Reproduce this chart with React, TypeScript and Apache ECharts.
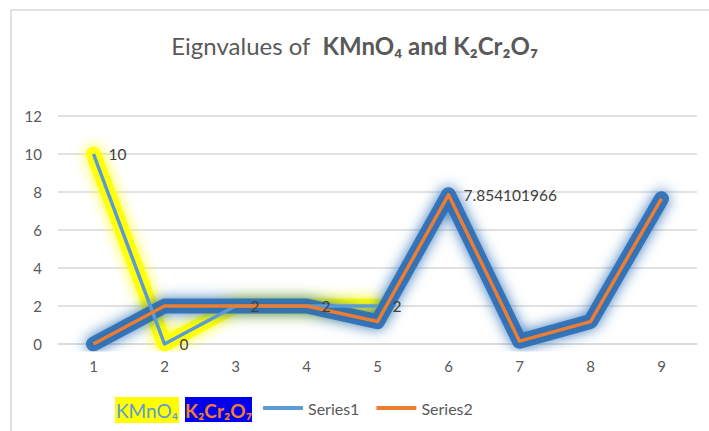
import React, { useEffect, useRef } from "react";
import * as echarts from "echarts";

const categories = ["1", "2", "3", "4", "5", "6", "7", "8", "9"];
const series1 = [10, 0, 2, 2, 2];
const series2 = [0, 2, 2, 2, 1.18, 7.854101966, 0.15, 1.18, 7.65];
const series2LabelIndex = 5;
const yTicks = { min: 0, max: 12, interval: 2 };

const FONT = "Lato, 'Noto Sans', sans-serif";

export default function App() {
  const ref = useRef<HTMLDivElement>(null);
  useEffect(() => {
    if (!ref.current) return;
    const chart = echarts.init(ref.current, undefined, { renderer: "svg" });
    const glow = (color: string) => ({
      width: 15,
      color,
      opacity: 0.9,
      cap: "round",
      join: "round",
      shadowBlur: 14,
      shadowColor: color,
    });
    const labelStyle = {
      show: true,
      position: "right",
      distance: 15,
      color: "#404040",
      fontSize: 15.5,
      fontFamily: FONT,
    };
    chart.setOption({
      animation: false,
      backgroundColor: "#ffffff",
      textStyle: { fontFamily: FONT },
      title: {
        text: "{n|Eignvalues of  }{b|KMnO₄ and K₂Cr₂O₇}",
        left: "center",
        top: 28,
        textStyle: {
          fontWeight: "normal",
          rich: {
            n: { fontSize: 24, color: "#595959", fontWeight: "normal", fontFamily: FONT },
            b: { fontSize: 24, color: "#595959", fontWeight: "bold", fontFamily: FONT },
          },
        },
      },
      graphic: [
        {
          type: "rect",
          shape: { x: 11, y: 10, width: 720, height: 440 },
          style: { fill: "none", stroke: "#d9d9d9", lineWidth: 1.5 },
          silent: true,
        },
        {
          type: "rect",
          shape: { x: 115, y: 397, width: 64, height: 26 },
          style: { fill: "#ffff00" },
        },
        {
          type: "text",
          x: 147,
          y: 410,
          style: {
            text: "KMnO₄",
            fill: "#5b9bd5",
            font: `19px ${FONT}`,
            align: "center",
            verticalAlign: "middle",
          },
        },
        {
          type: "rect",
          shape: { x: 185, y: 397, width: 67, height: 25 },
          style: { fill: "#0000ee" },
        },
        {
          type: "text",
          x: 218.5,
          y: 410,
          style: {
            text: "K₂Cr₂O₇",
            fill: "#ed7d31",
            font: `bold 19px ${FONT}`,
            align: "center",
            verticalAlign: "middle",
          },
        },
      ],
      legend: {
        data: [
          { name: "Series1", itemStyle: { color: "#5b9bd5" } },
          { name: "Series2", itemStyle: { color: "#ed7d31" } },
        ],
        left: 263,
        top: 400,
        padding: 0,
        icon: "roundRect",
        itemWidth: 40,
        itemHeight: 4,
        itemGap: 17,
        itemTextGap: 1,
        textStyle: { fontSize: 16, color: "#595959", fontFamily: FONT },
      },
      grid: { left: 58, right: 12, top: 116, bottom: 87 },
      xAxis: {
        type: "category",
        data: categories,
        boundaryGap: true,
        axisTick: { show: false },
        axisLine: { lineStyle: { color: "#d9d9d9", width: 1.5 } },
        axisLabel: { color: "#595959", fontSize: 15, margin: 14 },
      },
      yAxis: {
        type: "value",
        min: yTicks.min,
        max: yTicks.max,
        interval: yTicks.interval,
        axisLine: { show: false },
        axisTick: { show: false },
        splitLine: { lineStyle: { color: "#d9d9d9", width: 1.5 } },
        axisLabel: { color: "#595959", fontSize: 15, margin: 16 },
      },
      series: [
        {
          name: "KMnO4 glow",
          type: "line",
          data: series1,
          symbol: "none",
          silent: true,
          lineStyle: glow("#ffff00"),
        },
        {
          name: "K2Cr2O7 glow",
          type: "line",
          data: series2,
          symbol: "none",
          silent: true,
          lineStyle: glow("#2a6db5"),
        },
        {
          name: "Series1",
          type: "line",
          data: series1,
          symbol: "circle",
          symbolSize: 0.01,
          showSymbol: true,
          color: "#5b9bd5",
          lineStyle: { width: 3.5, color: "#5b9bd5", join: "round" },
          label: labelStyle,
        },
        {
          name: "Series2",
          type: "line",
          data: series2.map((v, i) =>
            i === series2LabelIndex ? { value: v, label: labelStyle } : v
          ),
          symbol: "circle",
          symbolSize: 0.01,
          showSymbol: true,
          color: "#ed7d31",
          lineStyle: { width: 3.5, color: "#ed7d31", join: "round" },
          label: { show: false },
        },
      ],
    });
    return () => chart.dispose();
  }, []);
  return (
    <div
      ref={ref}
      style={{ position: "fixed", left: 0, top: 0, width: 709, height: 431 }}
    />
  );
}
